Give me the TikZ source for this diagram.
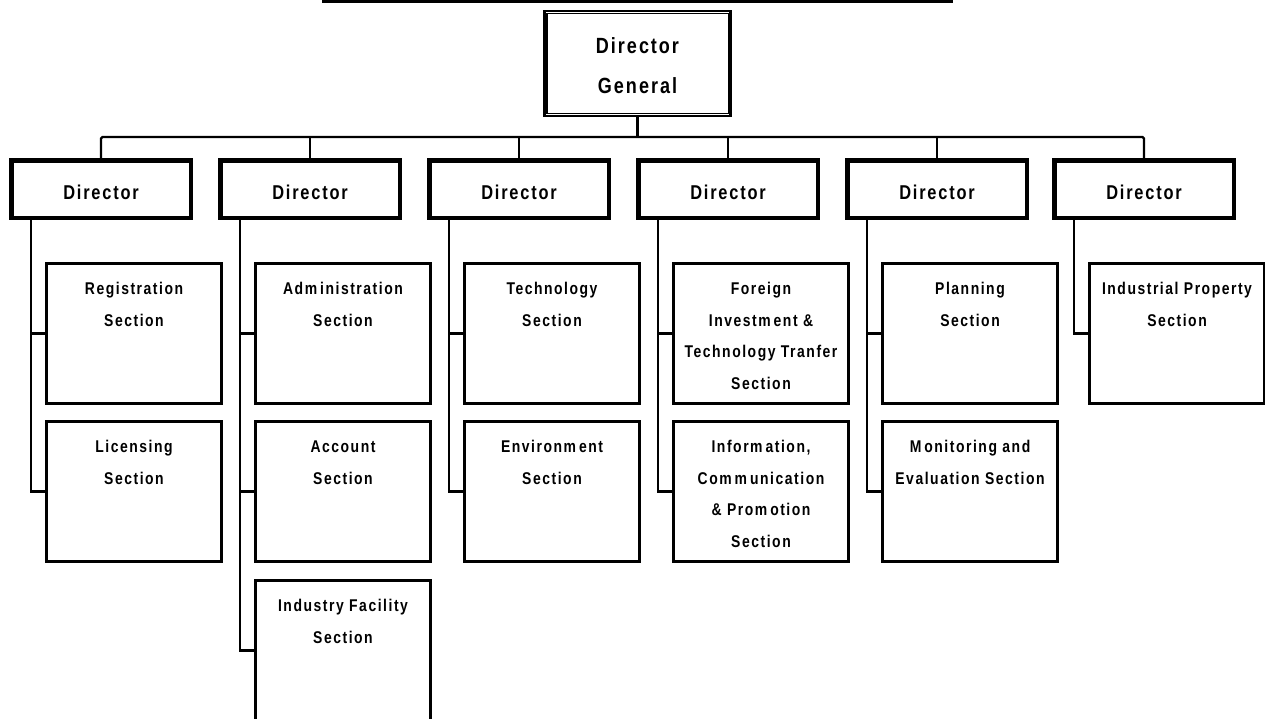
\documentclass[tikz,border=0pt]{standalone}
\usepackage{fontspec}
\newfontfamily\orgfont{Liberation Sans}[FakeStretch=0.82,LetterSpace=9]
\usetikzlibrary{calc}
\newcommand\mgap{m\kern3pt\relax}
\newcommand\Mgap{M\kern3pt\relax}
\newcommand\sect[3]{\node[secbox] (#1) at (#2) {\begin{minipage}[t][140pt][t]{175pt}\centering\orgfont\bfseries\fontsize{17}{31.7}\selectfont\vspace*{18pt}\rule{0pt}{13pt}#3\end{minipage}};}
\begin{document}
\begin{tikzpicture}[x=1pt,y=-1pt,
  dgbox/.style={draw, line width=2.8pt, inner sep=0pt, minimum width=186pt, minimum height=105pt, align=center, font=\orgfont\bfseries\fontsize{22}{40}\selectfont},
  dirbox/.style={draw, line width=2.8pt, inner sep=0pt, minimum width=181pt, minimum height=59pt, text height=20.5pt, text depth=0pt, font=\orgfont\bfseries\fontsize{20}{24}\selectfont},
  innerline/.style={line width=1.2pt},
  secbox/.style={draw, line width=2.5pt, inner sep=0pt},
  trunk/.style={line width=2.2pt},
  bus/.style={line width=2.2pt, rounded corners=1.5pt},
  tick/.style={line width=3pt, line cap=rect},
  bar/.style={line width=3.2pt}]
\useasboundingbox (0,0) rectangle (1265,718);

% title underline
\coordinate (barL) at (322,1.6);
\coordinate (barR) at (953,1.6);
\draw[bar] (barL) -- (barR);

% director general
\node[dgbox] (dg) at (637.5,63.5) {\rule{0pt}{20pt}Director\\General};

% directors
\node[dirbox] (d1) at (101,189) {Director};
\node[dirbox] (d2) at (310,189) {Director};
\node[dirbox] (d3) at (519,189) {Director};
\node[dirbox] (d4) at (728,189) {Director};
\node[dirbox] (d5) at (937,189) {Director};
\node[dirbox] (d6) at (1144,189) {Director};

\foreach \n in {dg,d1,d2,d3,d4,d5,d6}
  \draw[innerline] ([shift={(3.8pt,-3.8pt)}]\n.north west) rectangle ([shift={(-3.8pt,3.8pt)}]\n.south east);

% sections
\sect{s11}{134,333.5}{Registration\\Section}
\sect{s12}{134,491.5}{Licensing\\Section}
\sect{s21}{343,333.5}{Ad\mgap inistration\\Section}
\sect{s22}{343,491.5}{Account\\Section}
\sect{s23}{343,650.5}{Industry Facility\\Section}
\sect{s31}{552,333.5}{Technology\\Section}
\sect{s32}{552,491.5}{Environ\mgap ent\\Section}
\sect{s41}{761,333.5}{Foreign\\Invest\mgap ent \&\\Technology Tranfer\\Section}
\sect{s42}{761,491.5}{Infor\mgap ation,\\Co\mgap\mgap unication\\\& Pro\mgap otion\\Section}
\sect{s51}{970,333.5}{Planning\\Section}
\sect{s52}{970,491.5}{\Mgap onitoring and\\Evaluation Section}
\sect{s61}{1177,333.5}{Industrial Property\\Section}

% bus from director general to directors
\coordinate (bus) at (637.5,137);
\draw[bus] (dg.south) -- (dg.south |- bus);
\draw[bus] (d1.north) -- (d1.north |- bus) -- (d6.north |- bus) -- (d6.north);
\foreach \n in {d2,d3,d4,d5}
  \draw[bus] (\n.north) -- (\n.north |- bus);

% trunks under directors
\foreach \d/\last in {d1/s12,d2/s23,d3/s32,d4/s42,d5/s52,d6/s61} {
  \coordinate (t\d) at ([xshift=22pt]\d.south west);
  \draw[trunk] (t\d) -- (t\d |- \last.west);
}
\foreach \d/\s in {d1/s11,d1/s12,d2/s21,d2/s22,d2/s23,d3/s31,d3/s32,d4/s41,d4/s42,d5/s51,d5/s52,d6/s61}
  \draw[tick] (t\d |- \s.west) -- (\s.west);
\end{tikzpicture}
\end{document}
